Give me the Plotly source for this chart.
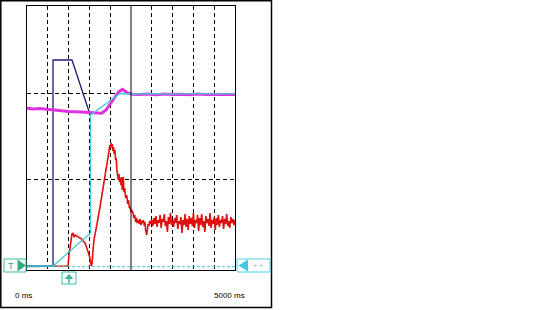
import plotly.graph_objects as go

# ---- data (time in ms, signal in arbitrary units) ----
navy_t = [0, 625, 625, 1082, 1527]
navy_v = [4, 4, 210, 210, 154]

cyan_t = [0, 625, 1527, 1527, 2236, 2600, 3000, 3500, 4000, 4500, 5000]
cyan_v = [4, 4, 37, 155, 176.5, 176, 176.3, 175.9, 176.3, 176, 176.2]

mag_t = [0, 150, 300, 500, 793, 1000, 1300, 1527, 1796, 1900, 2000, 2100, 2200, 2291,
         2350, 2420, 2548, 2700, 2900, 3100, 3300, 3500, 3700, 3900, 4100, 4300, 4500, 4700, 5000]
mag_v = [161.7, 161, 161.5, 160.5, 159.3, 158.5, 158, 157.3, 156.7, 160, 166, 172, 178, 180.7,
         179, 177, 175.7, 175.5, 176, 175.2, 176, 175.4, 175.8, 175.3, 176, 175.5, 175.8, 175.4, 175.6]

red_t = [0, 986, 1010, 1050, 1082, 1106, 1130, 1160, 1195, 1230, 1270, 1315, 1350, 1394,
         1430, 1474, 1500, 1527, 1545, 1563, 1575, 1594, 1610, 1650, 1700, 1755, 1800, 1850,
         1916, 1960, 1995, 2010, 2025, 2036, 2050, 2065, 2080, 2095, 2115, 2130, 2145, 2160,
         2175, 2195, 2210, 2225, 2240, 2255, 2270, 2290, 2315, 2330, 2350, 2370, 2397, 2420,
         2440, 2460, 2476, 2500, 2520, 2548, 2570, 2590, 2610, 2630, 2650, 2676, 2700, 2720,
         2740, 2760, 2780, 2800, 2820, 2837, 2850, 2865, 2878, 2895, 2910, 2930, 2950, 2975,
         3000, 3025, 3050, 3075, 3100, 3125, 3150, 3175, 3200, 3225, 3250, 3275, 3300, 3325,
         3350, 3375, 3400, 3425, 3450, 3475, 3500, 3525, 3550, 3575, 3600, 3625, 3650, 3675,
         3700, 3725, 3750, 3775, 3800, 3825, 3850, 3875, 3900, 3925, 3950, 3975, 4000, 4025,
         4050, 4075, 4100, 4125, 4150, 4175, 4200, 4225, 4250, 4275, 4300, 4325, 4350, 4375,
         4400, 4425, 4450, 4475, 4500, 4525, 4550, 4575, 4600, 4625, 4650, 4675, 4700, 4725,
         4750, 4775, 4800, 4825, 4850, 4875, 4900, 4925, 4950, 4975, 5000]
red_v = [3.5, 4, 15, 30, 36, 37, 33, 35, 34, 33, 32, 31, 29, 27,
         23, 18, 14, 8, 4, 6, 20, 23, 30, 38, 50, 63, 75, 90,
         107, 118, 125, 122, 127, 124, 126, 119, 123, 116, 120, 110, 112, 100,
         95, 90, 96, 88, 92, 85, 93, 80, 93, 78, 82, 72, 75, 66,
         70, 62, 63, 58, 60, 57, 52, 55, 48, 52, 47, 50, 46, 51,
         45, 49, 47, 50, 44, 48, 40, 37, 35, 41, 46, 44, 49, 46,
         50, 44, 52, 46, 54, 43, 50, 47, 55, 42, 51, 48, 56, 44,
         49, 38, 53, 46, 57, 45, 50, 43, 52, 47, 55, 41, 49, 46,
         53, 37, 50, 45, 56, 43, 51, 40, 54, 46, 52, 44, 57, 42,
         50, 47, 55, 39, 52, 45, 56, 43, 49, 38, 54, 47, 51, 44,
         57, 42, 50, 46, 53, 40, 52, 45, 55, 43, 50, 47, 54, 41,
         51, 46, 56, 44, 49, 42, 53, 47, 51, 45, 50]

grid_x = [500, 1000, 1500, 2000, 3000, 3500, 4000, 4500]
grid_y = [91, 177]
cursor_t = 2500
trigger_level = 3.3
x_labels = ["0 ms", "5000 ms"]

W, H = 535, 310

def px(x):
    return x / W

def py(y):
    return 1 - y / H

fig = go.Figure()
fig.add_trace(go.Scatter(x=red_t, y=red_v, mode="lines",
                         line=dict(color="#e01010", width=1.6)))
fig.add_trace(go.Scatter(x=navy_t, y=navy_v, mode="lines",
                         line=dict(color="#1c1c78", width=1.3)))
fig.add_trace(go.Scatter(x=mag_t, y=mag_v, mode="lines",
                         line=dict(color="#e030e0", width=3)))
fig.add_trace(go.Scatter(x=cyan_t, y=cyan_v, mode="lines",
                         line=dict(color="#48c8d8", width=1.3)))

shapes = []
# cursor line
shapes.append(dict(type="line", xref="x", yref="paper", x0=cursor_t, x1=cursor_t,
                   y0=py(270), y1=py(6), line=dict(color="black", width=1)))
# trigger level line
shapes.append(dict(type="line", xref="paper", yref="y", x0=px(27), x1=px(235),
                   y0=trigger_level, y1=trigger_level,
                   line=dict(color="#40c8d8", width=1, dash="3px,2px")))
# outer frame
shapes.append(dict(type="rect", xref="paper", yref="paper", x0=px(0.8), x1=px(271.5),
                   y0=py(307.5), y1=py(0.8), line=dict(color="black", width=1.5)))
teal = "#3cb898"
# T marker
shapes.append(dict(type="rect", xref="paper", yref="paper", x0=px(4), x1=px(26),
                   y0=py(272), y1=py(259), line=dict(color=teal, width=1), fillcolor="white"))
shapes.append(dict(type="path", xref="paper", yref="paper",
                   path=f"M {px(17.5)} {py(259.5)} L {px(26)} {py(265.5)} L {px(17.5)} {py(271.5)} Z",
                   line=dict(color="#2fae80", width=0), fillcolor="#2fae80"))
# up-arrow marker
shapes.append(dict(type="rect", xref="paper", yref="paper", x0=px(62), x1=px(76),
                   y0=py(284), y1=py(272), line=dict(color=teal, width=1), fillcolor="white"))
shapes.append(dict(type="path", xref="paper", yref="paper",
                   path=f"M {px(69)} {py(274)} L {px(73.5)} {py(279)} L {px(64.5)} {py(279)} Z",
                   line=dict(color=teal, width=0), fillcolor=teal))
shapes.append(dict(type="rect", xref="paper", yref="paper", x0=px(68.2), x1=px(69.8),
                   y0=py(283), y1=py(279), line=dict(color=teal, width=0), fillcolor=teal))
# right marker
shapes.append(dict(type="rect", xref="paper", yref="paper", x0=px(237), x1=px(270),
                   y0=py(272), y1=py(259), line=dict(color="#48d0e8", width=1), fillcolor="white"))
shapes.append(dict(type="path", xref="paper", yref="paper",
                   path=f"M {px(238.5)} {py(265.5)} L {px(248)} {py(259.5)} L {px(248)} {py(271.5)} Z",
                   line=dict(color="#40c8e0", width=0), fillcolor="#40c8e0"))

annotations = [
    dict(text="T", xref="paper", yref="paper", x=px(10.5), y=py(265.5), showarrow=False,
         font=dict(family="Liberation Sans, Arial", size=9, color="#3a9c88"),
         xanchor="center", yanchor="middle"),
    dict(text="+ +", xref="paper", yref="paper", x=px(258), y=py(265), showarrow=False,
         font=dict(family="Liberation Sans, Arial", size=7, color="#a8b0b0"),
         xanchor="center", yanchor="middle"),
    dict(text=x_labels[0], xref="paper", yref="paper", x=px(23.5), y=py(295), showarrow=False,
         font=dict(family="Liberation Sans, Arial", size=8, color="black"),
         xanchor="center", yanchor="middle"),
    dict(text=x_labels[1], xref="paper", yref="paper", x=px(229.5), y=py(295), showarrow=False,
         font=dict(family="Liberation Sans, Arial", size=8, color="black"),
         xanchor="center", yanchor="middle"),
]

fig.update_layout(
    width=W, height=H, margin=dict(l=0, r=0, t=0, b=0),
    paper_bgcolor="white", plot_bgcolor="white", showlegend=False,
    shapes=shapes, annotations=annotations,
    xaxis=dict(domain=[px(27), px(235)], range=[0, 5000], tickvals=grid_x,
               showticklabels=False, ticks="", showgrid=True, gridcolor="black",
               gridwidth=1, griddash="4px,3px", zeroline=False, showline=True,
               linecolor="black", linewidth=1, mirror=True, fixedrange=True),
    yaxis=dict(domain=[py(270), py(6)], range=[0, 264], tickvals=grid_y,
               showticklabels=False, ticks="", showgrid=True, gridcolor="black",
               gridwidth=1, griddash="4px,3px", zeroline=False, showline=True,
               linecolor="black", linewidth=1, mirror=True, fixedrange=True),
)

fig.write_html("out.html")
